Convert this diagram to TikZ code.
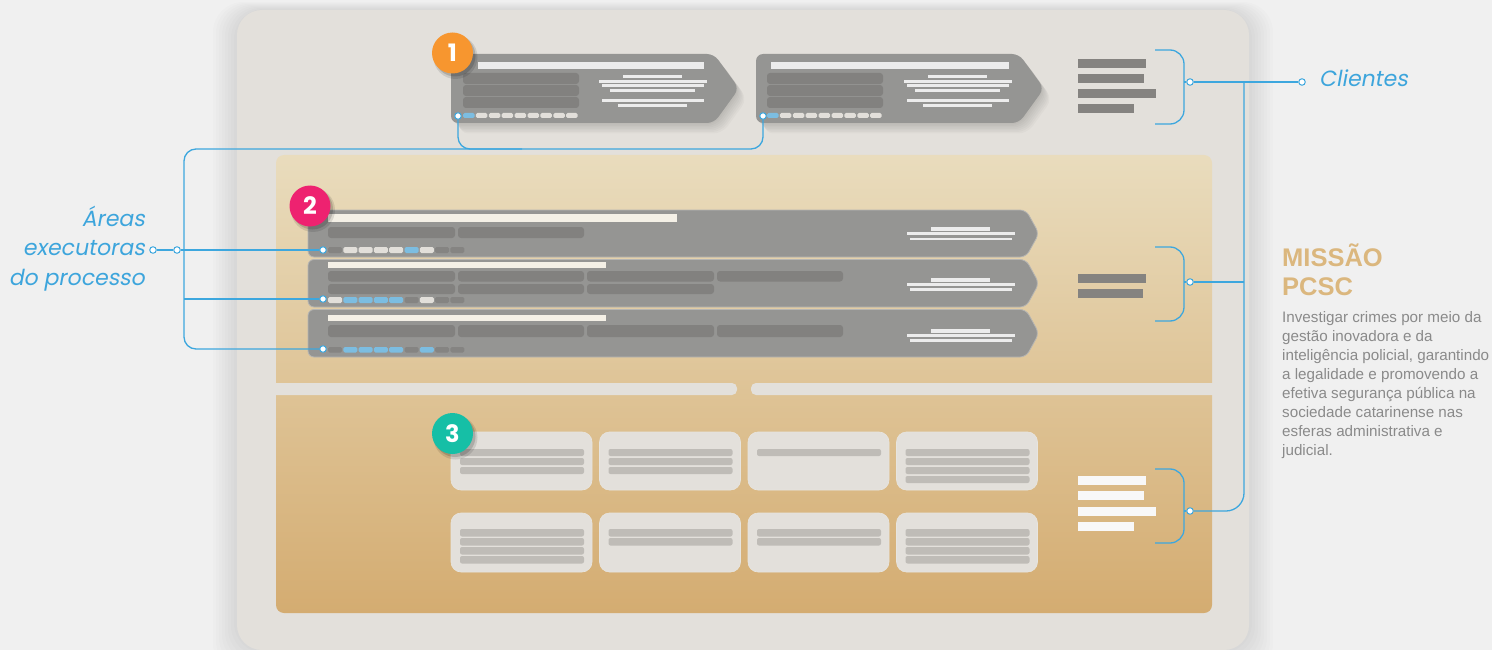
\documentclass[tikz,border=0pt]{standalone}
\usepackage{fontspec}
\setmainfont{Liberation Sans}
\newfontfamily\lblfont[FakeSlant=0.18]{Poppins}
\newfontfamily\numfont{Poppins}
\usetikzlibrary{calc}
\definecolor{bg}{HTML}{F0F0F0}
\definecolor{panel}{HTML}{E3E0DB}
\definecolor{cardg}{HTML}{959593}
\definecolor{cardbar}{HTML}{82817F}
\definecolor{titleW}{HTML}{ECECEC}
\definecolor{cream}{HTML}{F4F0E6}
\definecolor{chipL}{HTML}{E2DFDA}
\definecolor{chipB}{HTML}{7CBDE1}
\definecolor{chipD}{HTML}{858482}
\definecolor{cblue}{HTML}{3DA7DE}
\definecolor{lblue}{HTML}{3DA5DC}
\definecolor{legG}{HTML}{858380}
\definecolor{legW}{HTML}{F8F8F8}
\definecolor{tanTop}{HTML}{E9DCBD}
\definecolor{tanBot}{HTML}{D4AC71}
\definecolor{scard}{HTML}{E3E0DB}
\definecolor{scline}{HTML}{BFBCB7}
\definecolor{bOrange}{HTML}{F7962F}
\definecolor{bPink}{HTML}{EE2270}
\definecolor{bTeal}{HTML}{16BFA6}
\definecolor{gold}{HTML}{DBB77E}
\definecolor{bodyg}{HTML}{8A8A8A}
\newcommand\pcscArrow[6]{%
  \path[#1] (#2,#3) -- (#4,#3) -- (#5,{(#3+#6)/2}) -- (#4,#6) -- (#2,#6) -- cycle;}
\begin{document}
\begin{tikzpicture}[x=1pt,y=-1pt,
  conn/.style={draw=cblue, line width=1.3pt, rounded corners=12pt},
  bracketline/.style={draw=cblue, line width=1.3pt, rounded corners=14pt},
  dotc/.style={circle, draw=cblue, fill=white, line width=1pt, inner sep=0pt, minimum size=6.5pt},
  badge/.style={circle, minimum size=41pt, inner sep=0pt, text=white, font=\numfont\bfseries\fontsize{24}{24}\selectfont},
  topcard/.style={fill=cardg, rounded corners=7pt},
  rowcard/.style={fill=cardg, draw=cardg!70!white, line width=0.8pt, rounded corners=6pt},
  cardshadow/.style={fill=black, opacity=0.025, rounded corners=9pt},
  bar/.style={fill=cardbar, rounded corners=3pt},
  sbox/.style={fill=scard, draw=scard!85!white, line width=0.6pt, rounded corners=10pt},
  sline/.style={fill=scline, rounded corners=2pt},
  lbl/.style={text=lblue, font=\lblfont\fontsize{22}{28}\selectfont, inner sep=0pt},
  body/.style={text=bodyg, font=\fontsize{15.2}{19}\selectfont, inner sep=0pt, anchor=base west},
  ttl/.style={text=gold, font=\bfseries\fontsize{25.5}{29}\selectfont, inner sep=0pt, anchor=base west}
]
\useasboundingbox (0,0) rectangle (1492,650);
\fill[bg] (0,0) rectangle (1492,650);
% panel shadow
\foreach \k in {3,6,...,24} {
  \fill[black, opacity=0.012, rounded corners=30pt] ({237-\k},{10-\k/3}) rectangle ({1249+\k},{650+\k});
}
\fill[panel, rounded corners=25pt] (237,10) rectangle (1249,650);
% tan area
\shade[top color=tanTop, bottom color=tanBot, rounded corners=8pt] (276,155) rectangle (1212,613);
\fill[panel, rounded corners=5pt] (266,383) rectangle (737,395);
\fill[panel, rounded corners=5pt] (751,383) rectangle (1222,395);

% ---------- top cards ----------
\foreach \s in {1,2,...,7} {
  \begin{scope}[shift={(1.2*\s,{1.5*\s})}]
  \pcscArrow{cardshadow}{451}{54}{714}{739}{123}
  \pcscArrow{cardshadow}{756}{54}{1019}{1044}{123}
  \end{scope}
}
\pcscArrow{topcard}{451}{54}{714}{739}{123}
\pcscArrow{topcard}{756}{54}{1019}{1044}{123}
\fill[titleW] (478,62) rectangle (704,69);
\fill[titleW] (771,62) rectangle (1009,69);
\foreach \dx in {0,304} {
  \fill[bar] ({463+\dx},73) rectangle ({579+\dx},84);
  \fill[bar] ({463+\dx},85) rectangle ({579+\dx},96);
  \fill[bar] ({463+\dx},97) rectangle ({579+\dx},108);
}
\foreach \dx in {0,305} {
  \foreach \a/\b/\c in {76.7/623/682, 81.5/599/707, 85.6/602/704, 90.3/610/695, 100.3/602/704, 105.3/618/687}
    \fill[titleW] ({\b+\dx},{\a-1.4}) rectangle ({\c+\dx},{\a+1.4});
}
\foreach \dx in {0,304} {
  \foreach \c [count=\i from 0] in {chipB,chipL,chipL,chipL,chipL,chipL,chipL,chipL,chipL}
    \fill[\c, rounded corners=1.5pt] ({463+\dx+\i*12.9},113) rectangle ++(11.5,5);
}

% ---------- rows ----------
\pcscArrow{rowcard}{308}{210}{1026}{1039}{257}
\pcscArrow{rowcard}{308}{259.5}{1026}{1039}{307}
\pcscArrow{rowcard}{308}{309.5}{1026}{1039}{357}
\fill[cream] (328,214) rectangle (677,222);
\fill[cream] (328,262) rectangle (606,268);
\fill[cream] (328,315) rectangle (606,321);
\foreach \x/\w in {328/455, 458/584} \fill[bar] (\x,227) rectangle (\w,238);
\foreach \x/\w in {328/455, 458/584, 587/714, 717/843} \fill[bar] (\x,271) rectangle (\w,281.5);
\foreach \x/\w in {328/455, 458/584, 587/714} \fill[bar] (\x,284) rectangle (\w,294);
\foreach \x/\w in {328/455, 458/584, 587/714, 717/843} \fill[bar] (\x,325) rectangle (\w,337);
\foreach \dy in {0,50.6,101.4} {
  \fill[titleW] (931,{227.4+\dy}) rectangle (990,{231.1+\dy});
  \fill[titleW] (907,{232.4+\dy}) rectangle (1015,{235.1+\dy});
  \fill[titleW] (910,{237.5+\dy}) rectangle (1012,{240.2+\dy});
}
\foreach \c [count=\i from 0] in {chipD,chipL,chipL,chipL,chipL,chipB,chipL,chipD,chipD}
  \fill[\c, rounded corners=1.5pt] ({328+\i*15.3},247) rectangle ++(14,6);
\foreach \c [count=\i from 0] in {chipL,chipB,chipB,chipB,chipB,chipD,chipL,chipD,chipD}
  \fill[\c, rounded corners=1.5pt] ({328+\i*15.3},297) rectangle ++(14,6);
\foreach \c [count=\i from 0] in {chipD,chipB,chipB,chipB,chipB,chipD,chipB,chipD,chipD}
  \fill[\c, rounded corners=1.5pt] ({328+\i*15.3},347) rectangle ++(14,5.5);

% ---------- section 3 cards ----------
\foreach \col/\n in {0/3,1/3,2/1,3/4} {
  \fill[sbox] ({451+\col*148.5},432) rectangle ++(141,58);
  \foreach \k in {1,...,\n}
    \fill[sline] ({460+\col*148.5},{449+(\k-1)*9}) rectangle ++(124,7);
}
\foreach \col/\n in {0/4,1/2,2/2,3/4} {
  \fill[sbox] ({451+\col*148.5},513) rectangle ++(141,59);
  \foreach \k in {1,...,\n}
    \fill[sline] ({460+\col*148.5},{529+(\k-1)*9}) rectangle ++(124,7.5);
}

% ---------- legend bars ----------
\fill[legG] (1078,59) rectangle (1146,68);
\fill[legG] (1078,74) rectangle (1144,83);
\fill[legG] (1078,89) rectangle (1156,98);
\fill[legG] (1078,104) rectangle (1134,113);
\fill[legG] (1078,274) rectangle (1146,283);
\fill[legG] (1078,289) rectangle (1143,298);
\fill[legW] (1078,476) rectangle (1146,485);
\fill[legW] (1078,491) rectangle (1144,500);
\fill[legW] (1078,507) rectangle (1156,516);
\fill[legW] (1078,522) rectangle (1134,531);

% ---------- badges ----------
\foreach \x/\y in {452.5/53, 310/206, 452.5/433.5} {
  \fill[black, opacity=0.10] ({\x+3},{\y+4}) circle[radius=22pt];
  \fill[black, opacity=0.15] ({\x+2.5},{\y+3}) circle[radius=20.5pt];
}
\node[badge, fill=bOrange] (b1) at (452.5,53) {1};
\node[badge, fill=bPink] (b2) at (310,206) {2};
\node[badge, fill=bTeal] (b3) at (452.5,433.5) {3};

% ---------- dots ----------
\node[dotc] (c1d) at (458,116) {};
\node[dotc] (c2d) at (763,116) {};
\node[dotc] (r1d) at (323,250) {};
\node[dotc] (r2d) at (323,299) {};
\node[dotc] (r3d) at (323,349) {};
\node[dotc] (ld1) at (153,250) {};
\node[dotc] (ld2) at (177,250) {};
\node[dotc] (td) at (1190,82) {};
\node[dotc] (md) at (1190,282) {};
\node[dotc] (bd) at (1190,511) {};
\node[dotc] (cld) at (1302,82) {};

% ---------- connectors ----------
\coordinate (hy) at (0,149);
\coordinate (jt) at (522,149);
\coordinate (lbTop) at (184,149);
\coordinate (lbBot) at (184,349);
\draw[conn] (c1d.south) -- (c1d.south |- hy) -- (c2d.south |- hy) -- (c2d.south);
\draw[conn] (jt) -- (lbTop) -- (lbBot) -- (r3d.west);
\draw[conn] (lbTop |- r1d) -- (r1d.west);
\draw[conn] (lbTop |- r2d) -- (r2d.west);
\draw[conn] (ld1.east) -- (ld2.west);
\draw[conn] (ld2.east) -- (lbTop |- ld2);

\draw[bracketline] (1155,50) -- (1184,50) -- (1184,124) -- (1155,124);
\draw[bracketline] (1155,247) -- (1184,247) -- (1184,321) -- (1155,321);
\draw[bracketline] (1155,469) -- (1184,469) -- (1184,543) -- (1155,543);
\draw[conn] (1184,82) -- (td.west);
\draw[conn] (1184,282) -- (md.west);
\draw[conn] (1184,511) -- (bd.west);
\coordinate (vt) at (1244,82);
\coordinate (vb) at (1244,511);
\draw[conn] (td.east) -- (cld.west);
\draw[conn, rounded corners=18pt] (vt) -- (vb) -- (bd.east);
\draw[conn] (vt |- md) -- (md.east);

% ---------- texts ----------
\node[lbl, anchor=base west] (clientes) at (1319,87) {Clientes};
\node[lbl, anchor=base east] (la1) at (145,226) {Áreas};
\node[lbl, anchor=base east] (la2) at (145,255) {executoras};
\node[lbl, anchor=base east] (la3) at (145,285) {do processo};
\node[ttl] (t1) at (1282,266) {MISSÃO};
\node[ttl] (t2) at (1282,295) {PCSC};
\foreach \t [count=\i from 0] in {Investigar crimes por meio da, gestão inovadora e da, {inteligência policial, garantindo}, a legalidade e promovendo a, efetiva segurança pública na, sociedade catarinense nas, esferas administrativa e, judicial.}
  \node[body] (bl\i) at (1282,{322+19*\i}) {\t};
\end{tikzpicture}
\end{document}
